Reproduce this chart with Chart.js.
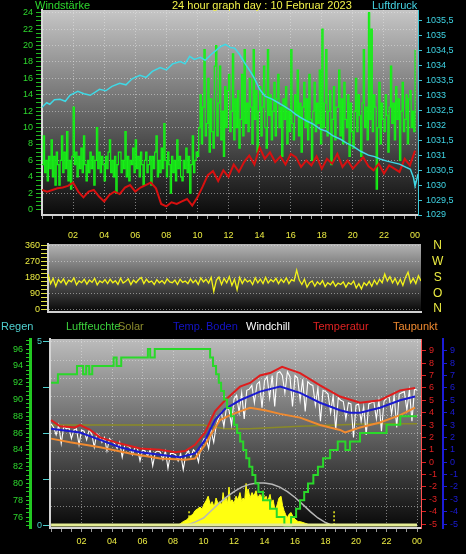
<!DOCTYPE html>
<html lang="de">
<head>
<meta charset="UTF-8">
<title>24 hour graph day : 10 Februar 2023</title>
<script src="https://cdn.jsdelivr.net/npm/chart.js"></script>
<style>
  html, body { margin: 0; padding: 0; background: #000; }
  body { position: relative; width: 466px; height: 554px; overflow: hidden; font-family: "Liberation Sans", Arial, sans-serif; }
  canvas { position: absolute; left: 0; }
  #topChart { top: 0; }
  #dirChart { top: 238px; }
  #bottomChart { top: 330px; }
  .t { position: absolute; font-size: 11px; line-height: 11px; white-space: nowrap; z-index: 2; }
</style>
</head>
<body>
<canvas id="topChart" width="466" height="240"></canvas>
<canvas id="dirChart" width="466" height="80"></canvas>
<canvas id="bottomChart" width="466" height="224"></canvas>

<div class="t" style="left:35px;top:0;color:#2ed82e">Windstärke</div>
<div class="t" style="left:172px;top:0;color:#f2f24a">24 hour graph day : 10 Februar 2023</div>
<div class="t" style="left:372px;top:0;color:#45d4e4">Luftdruck</div>

<div class="t" style="left:1px;top:321px;color:#4fd0d0">Regen</div>
<div class="t" style="left:66px;top:321px;color:#3cd23c">Luftfeuchte</div>
<div class="t" style="left:118px;top:321px;color:#8c8c2c">Solar</div>
<div class="t" style="left:173px;top:321px;color:#1414c8">Temp. Boden</div>
<div class="t" style="left:246px;top:321px;color:#ffffff">Windchill</div>
<div class="t" style="left:313px;top:321px;color:#e02222">Temperatur</div>
<div class="t" style="left:393px;top:321px;color:#f08a30">Taupunkt</div>

<script>
// ---------- data ----------
// wind gusts, every 5 minutes from 00:00 to 24:00
const windGust = [
  5.5, 9.0, 4.5, 6.0, 3.5, 6.5, 5.0, 8.5, 4.0, 6.5, 3.0, 7.0,
  5.5, 3.0, 6.0, 9.0, 4.5, 7.0, 5.0, 9.5, 3.5, 6.0, 2.5, 6.5,
  12.5, 5.5, 7.0, 4.0, 6.5, 5.0, 7.5, 4.5, 9.0, 5.5, 3.5, 6.0,
  4.5, 7.0, 5.0, 6.5, 3.0, 6.0, 10.0, 5.0, 7.0, 4.5, 6.5, 5.5,
  3.5, 6.5, 5.0, 7.0, 8.5, 4.5, 6.0, 4.0, 6.5, 2.0, 5.5, 7.0,
  7.0, 4.5, 6.0, 5.0, 9.5, 4.0, 6.5, 3.5, 6.0, 5.5, 7.5, 4.5,
  8.5, 5.0, 6.5, 4.0, 7.0, 5.5, 3.0, 6.0, 7.0, 4.5, 5.5, 6.5,
  3.0, 6.5, 5.0, 7.0, 9.0, 4.0, 6.0, 4.5, 7.5, 5.0, 10.5, 6.0,
  4.0, 7.0, 5.5, 2.0, 6.5, 4.5, 6.0, 3.5, 8.5, 5.0, 6.5, 4.0,
  3.5, 6.0, 5.0, 7.5, 4.5, 6.5, 2.0, 5.5, 9.0, 4.5, 6.0, 7.0,
  6.5, 10.0, 14.0, 8.0, 12.5, 19.5, 9.0, 10.5, 16.0, 7.0, 13.5, 9.5,
  7.5, 17.5, 20.0, 9.0, 13.0, 17.5, 8.5, 12.0, 6.5, 15.0, 10.0, 14.5,
  16.5, 9.5, 12.0, 19.0, 8.5, 13.5, 10.0, 14.5, 7.5, 11.0, 16.5, 9.0,
  19.5, 10.5, 13.0, 9.5, 16.0, 12.5, 8.0, 19.5, 11.0, 14.5, 7.0, 12.0,
  15.0, 9.0, 12.5, 17.5, 10.0, 7.5, 19.5, 11.5, 14.0, 8.5, 12.0, 15.5,
  9.0, 13.5, 16.5, 10.0, 12.5, 6.5, 13.5, 11.0, 15.0, 8.0, 12.0, 9.5,
  19.5, 10.5, 8.5, 14.0, 11.5, 17.0, 9.0, 13.0, 7.0, 12.5, 15.5, 10.0,
  13.5, 8.5, 16.5, 11.0, 6.0, 12.0, 15.5, 9.5, 13.0, 10.5, 17.0, 8.0,
  22.0, 10.0, 13.0, 19.5, 9.0, 12.0, 14.5, 5.5, 11.0, 15.0, 8.5, 12.5,
  12.5, 17.0, 9.0, 13.5, 8.0, 15.5, 11.0, 10.0, 14.0, 6.5, 13.0, 9.5,
  7.5, 12.0, 16.0, 9.5, 14.0, 11.5, 6.5, 13.0, 19.5, 10.0, 12.5, 8.5,
  24.0, 11.0, 22.0, 9.5, 14.0, 12.5, 2.5, 10.0, 15.5, 8.0, 13.0, 11.0,
  9.5, 14.0, 11.5, 7.0, 12.5, 17.5, 10.5, 13.0, 8.5, 15.0, 11.0, 13.5,
  6.0, 12.0, 15.5, 9.5, 11.0, 14.0, 8.0, 13.5, 14.5, 10.0, 12.0, 9.5,
  19.5
];

// average wind, every 20 minutes
const windAvg = [
  2.4, 2.2, 2.4, 2.6, 2.7, 2.9, 3.3, 2.2, 1.5, 2.2, 2.4, 1.6,
  1.0, 1.8, 2.2, 1.9, 2.7, 3.0, 2.2, 2.7, 3.0, 3.3, 2.6, 0.7,
  0.4, 0.9, 0.7, 1.0, 1.3, 0.5, 1.5, 2.8, 4.2, 4.7, 3.5, 4.8,
  4.0, 5.5, 4.6, 5.8, 6.6, 5.5, 7.6, 6.2, 7.0, 5.8, 6.5, 5.5,
  6.8, 6.4, 5.2, 6.0, 5.4, 6.5, 5.0, 6.2, 5.6, 6.8, 5.2, 6.0,
  5.0, 5.7, 6.4, 5.3, 4.8, 5.6, 4.4, 5.4, 5.0, 4.6, 6.2, 5.4,
  7.2
];

// air pressure (hPa)
const pressHours = [0, 0.3, 0.5, 0.8, 1.16, 1.5, 1.8, 2.3, 2.7, 3.1, 3.4, 3.7, 4.1, 4.5, 5.0, 5.4, 5.8, 6.3,
  6.7, 7.1, 7.6, 8.0, 8.4, 8.9, 9.2, 9.5, 9.8, 10.2, 10.5, 10.9, 11.2, 11.5, 11.8, 12.1, 12.4, 12.7,
  13.1, 13.4, 13.7, 14.0, 14.35, 14.8, 15.2, 15.6, 16.0, 16.3, 16.6, 17.0, 17.4, 17.9, 18.3, 18.7,
  19.2, 19.6, 20.0, 20.5, 21.0, 21.4, 21.75, 22.2, 22.6, 23.0, 23.4, 23.7, 23.9, 24.0, 24.2];
const pressure = [1032.6, 1032.75, 1032.7, 1032.85, 1032.87, 1032.8, 1033.0, 1033.13, 1033.05, 1033.0,
  1033.1, 1033.2, 1033.15, 1033.3, 1033.4, 1033.35, 1033.55, 1033.67, 1033.6, 1033.8, 1033.93, 1033.85,
  1034.05, 1034.13, 1034.05, 1034.3, 1034.2, 1034.27, 1034.17, 1034.37, 1034.5, 1034.63, 1034.7, 1034.6,
  1034.57, 1034.37, 1034.03, 1033.8, 1033.53, 1033.2, 1032.97, 1032.87, 1032.75, 1032.63, 1032.5,
  1032.37, 1032.27, 1032.15, 1032.05, 1031.87, 1031.8, 1031.65, 1031.53, 1031.4, 1031.3, 1031.13,
  1031.0, 1030.95, 1030.87, 1030.8, 1030.75, 1030.7, 1030.6, 1030.53, 1030.25, 1029.97, 1030.37];

// wind direction (degrees), every 10 minutes
const windDir = [
  200, 145, 175, 130, 168, 150,
  172, 140, 165, 155, 178, 138,
  160, 150, 170, 142, 165, 152,
  175, 138, 160, 150, 168, 145,
  170, 150, 162, 140, 176, 148,
  158, 172, 140, 165, 150, 168,
  180, 145, 170, 152, 160, 140,
  168, 150, 162, 145, 172, 155,
  150, 165, 140, 170, 152, 160,
  145, 172, 150, 165, 140, 178,
  155, 170, 148, 180, 100, 165,
  182, 140, 175, 150, 185, 135,
  170, 110, 180, 145, 172, 155,
  165, 140, 178, 150, 170, 145,
  180, 148, 168, 155, 175, 145,
  170, 152, 178, 145, 168, 160,
  222, 165, 140, 170, 125, 150,
  160, 130, 155, 140, 162, 128,
  150, 138, 158, 130, 148, 140,
  155, 125, 150, 140, 160, 120,
  145, 115, 150, 135, 158, 130,
  165, 140, 170, 150, 200, 160,
  185, 150, 175, 140, 170, 135,
  180, 210, 150, 175, 145, 190,
  160
];
const dirLabels = ['N', 'O', 'S', 'W', 'N'];

// humidity (%), value valid from the given hour on
const humHours = [0, 0.45, 1.7, 2.1, 2.3, 2.5, 2.7, 4.1, 4.3, 4.6, 6.35, 6.5, 6.8,
  10.43, 10.62, 10.82, 11.0, 11.15, 11.34, 11.54, 11.8, 12.0, 12.2, 12.4, 12.6, 12.8, 13.0,
  13.2, 13.4, 13.6, 13.9, 14.36, 14.8, 15.3, 15.74, 16.07, 16.33, 16.6, 16.85, 17.2, 17.5,
  17.84, 18.3, 18.8, 19.3, 19.6, 20.26, 22.0, 22.9, 24.0];
const humidity = [92, 93, 94, 93, 94, 93, 94, 95, 94, 95, 96, 95, 96,
  95, 94, 93, 92, 91, 90, 89, 88, 87, 86, 85, 84, 83, 82,
  81, 80, 79, 78, 77, 76, 75, 76, 77, 78, 79, 80, 81, 82,
  83, 84, 85, 84, 85, 86, 87, 88, 88];

// temperatures (°C)
const tempHours = [0, 0.59, 1.57, 1.9, 2.56, 3.21, 4.52, 5.84, 7.15, 8.13, 8.79, 9.44, 10.1,
  10.75, 11.41, 12.39, 13.05, 13.7, 14.36, 15.15, 16.33, 17.64, 18.95, 20.26, 21.57, 22.89, 23.87];
const temperature = [3.4, 2.9, 2.8, 3.0, 2.6, 2.0, 1.5, 1.1, 1.0, 0.8, 0.9, 1.4, 2.4,
  4.1, 5.0, 6.1, 6.4, 7.0, 7.2, 7.7, 7.2, 6.2, 5.3, 4.8, 5.0, 5.8, 6.0];

const bodenHours = [0, 1.9, 3.21, 4.52, 5.84, 7.15, 8.46, 9.44, 10.1, 10.75, 11.41, 12.39,
  13.7, 15.02, 16.33, 17.64, 18.95, 19.6, 20.26, 21.57, 22.89, 23.87];
const bodenTemp = [2.7, 2.4, 1.8, 1.2, 0.8, 0.6, 0.4, 0.7, 1.8, 3.4, 4.3, 5.0,
  5.7, 6.1, 5.6, 4.8, 4.2, 4.0, 4.0, 4.4, 5.0, 5.3];

const dewHours = [0, 1.25, 3.21, 5.18, 7.15, 8.79, 9.44, 10.1, 10.56, 11.08, 11.74, 12.39,
  13.05, 14.03, 15.02, 16.33, 17.64, 18.95, 19.28, 20.26, 21.57, 22.89, 23.87];
const dewPoint = [1.9, 1.6, 1.2, 0.7, 0.3, 0.2, 0.3, 1.4, 2.4, 3.4, 3.8, 4.1,
  4.4, 4.2, 3.9, 3.6, 3.0, 2.6, 2.4, 2.8, 3.2, 3.8, 4.4];

// windchill, every 10 minutes
const windchill = [
  3.1, 2.8, 2.2, 3.0, 1.5, 2.9,
  2.7, 2.8, 1.9, 2.6, 2.7, 1.4,
  2.6, 2.5, 1.8, 2.6, 2.3, 1.2,
  2.3, 2.1, 1.6, 2.0, 0.9, 1.9,
  1.7, 1.5, 1.1, 1.6, 0.4, 1.4,
  1.3, 1.2, 0.6, 1.2, 1.1, 0.1,
  1.0, 0.9, 0.5, 1.0, -0.3, 0.8,
  0.9, 0.8, 0.2, 0.9, -0.5, 0.7,
  0.7, 0.6, 0.1, 0.7, -0.6, 0.6,
  0.9, 0.4, 1.0, 0.8, 0.0, 1.3,
  1.8, 2.0, 1.1, 2.5, 1.6, 3.0,
  3.6, 4.0, 2.9, 4.4, 4.2, 3.0,
  5.1, 5.4, 4.0, 5.6, 3.5, 5.8,
  5.9, 6.2, 4.8, 6.3, 6.5, 4.4,
  6.6, 6.9, 5.2, 7.0, 4.5, 7.2,
  7.3, 7.0, 5.6, 7.3, 6.9, 4.5,
  7.0, 6.8, 5.0, 6.7, 4.1, 6.5,
  6.3, 6.2, 4.6, 6.0, 3.3, 5.8,
  5.7, 5.5, 4.0, 5.4, 2.6, 5.2,
  5.0, 4.9, 3.5, 4.8, 4.7, 2.0,
  4.6, 4.7, 3.3, 4.5, 2.2, 4.7,
  4.8, 4.9, 3.5, 5.0, 2.5, 4.9,
  5.2, 5.3, 3.9, 5.4, 2.8, 5.5,
  5.6, 5.7, 4.2, 5.8, 3.3, 5.9,
  5.8
];

// olive reference line (°C)
const oliveHours = [0, 5, 10, 11.4, 13, 16.3, 21, 24];
const oliveTemp = [3.0, 3.0, 3.0, 2.7, 2.7, 2.9, 3.1, 3.1];

// solar radiation (relative units)
const solarHours = [8.33, 8.5, 8.66, 8.9, 9.11, 9.3, 9.44, 9.6, 9.77, 9.9, 10.0, 10.2, 10.3, 10.45,
  10.56, 10.7, 10.82, 10.95, 11.08, 11.2, 11.28, 11.38, 11.48, 11.58, 11.67, 11.75, 11.87, 12.0,
  12.13, 12.25, 12.39, 12.5, 12.59, 12.7, 12.79, 12.85, 12.92, 13.05, 13.18, 13.3, 13.44, 13.55,
  13.7, 13.8, 13.9, 14.0, 14.1, 14.2, 14.36, 14.46, 14.56, 14.65, 14.75, 14.85, 14.95, 15.08,
  15.18, 15.28, 15.38, 15.48, 15.6, 15.74, 15.85, 15.93, 16.05, 16.2, 16.35, 16.52, 16.7, 16.85, 17.11];
const solar = [0, 1, 2, 3, 5, 6, 8, 9, 10, 9, 11, 14, 16, 11,
  13, 10, 15, 12, 13, 11, 18, 13, 15, 12, 21, 13, 14, 12,
  16, 14, 18, 13, 15, 14, 23, 17, 20, 15, 18, 16, 19, 15,
  17, 15, 19, 14, 16, 13, 17, 12, 14, 10, 9, 12, 15, 16,
  11, 8, 6, 4, 6, 7, 5, 4, 3, 2, 2, 1.5, 1, 0.5, 0];
const clearHours = [8.9, 9.5, 10, 10.5, 11, 11.5, 12, 12.5, 13, 13.5, 14, 14.5, 15, 15.5, 16, 16.5, 17, 17.5, 18, 18.4];
const clearSky = [0, 2, 4, 8, 12, 15.5, 18.5, 21, 22.5, 23.2, 23.3, 22.6, 21, 18.5, 15.3, 11.5, 7.5, 4, 1.5, 0];
const sunMarks = [9.05, 18.56];
const sunMarkHeight = 8;

// rain (mm)
const rainHours = [0, 24];
const rain = [0, 0];

// ---------- helpers ----------
const xy = (xs, ys) => ys.map((v, i) => ({ x: xs[i], y: v }));
const series = (step, ys) => ys.map((v, i) => ({ x: i * step, y: v }));
const near = (v, step) => Math.abs(v / step - Math.round(v / step)) < 1e-6;
const deComma = v => String(v).replace('.', ',');
const GRID = 'rgba(232,232,232,0.5)';

function stepTicks(from, to, step) {
  const out = [];
  const n = Math.round((to - from) / step);
  for (let i = 0; i <= n; i++) out.push({ value: +(from + i * step).toFixed(4) });
  return out;
}

Chart.defaults.font.family = '"Liberation Sans", Arial, Helvetica, sans-serif';
Chart.defaults.font.size = 9;

Chart.register({
  id: 'plotBackground',
  beforeDraw(chart, args, opts) {
    const { ctx, chartArea: a } = chart;
    const g = ctx.createLinearGradient(0, a.top, 0, a.bottom);
    g.addColorStop(0, opts.top || '#c0c0c0');
    g.addColorStop(1, opts.bottom || '#000');
    ctx.save();
    ctx.fillStyle = g;
    ctx.fillRect(a.left, a.top, a.width, a.height);
    ctx.restore();
  }
});

function hourAxis(min, max, height, labelPad) {
  return {
    type: 'linear', min, max,
    afterBuildTicks: s => { s.ticks = stepTicks(0, 24, 2 / 3); },
    afterFit: s => { s.height = height; },
    ticks: {
      color: '#ecec42', autoSkip: false, maxRotation: 0, padding: labelPad,
      callback: v => (near(v, 2) && v > 0) ? (v === 24 ? '00' : String(v).padStart(2, '0')) : ''
    },
    grid: {
      color: c => (c.tick && near(c.tick.value, 2) && c.tick.value > 0) ? GRID : 'transparent',
      tickColor: '#9a9a9a', tickLength: 4, tickBorderDash: []
    },
    border: { color: '#d4d4d4', width: 2, dash: [1, 2] }
  };
}

const baseOptions = (padTop, padRight, bg) => ({
  responsive: false,
  animation: false,
  elements: { point: { radius: 0 }, line: { tension: 0 } },
  layout: { padding: { top: padTop, left: 0, right: padRight, bottom: 0 } },
  plugins: { legend: { display: false }, tooltip: { enabled: false }, plotBackground: bg }
});

// ---------- top: wind and pressure ----------
new Chart(document.getElementById('topChart'), {
  type: 'line',
  data: {
    datasets: [
      { data: xy(pressHours, pressure), yAxisID: 'yPress', borderColor: '#3fd9e6', borderWidth: 1.5 },
      { data: series(1 / 3, windAvg), yAxisID: 'yWind', borderColor: '#d81010', borderWidth: 2 },
      { data: series(1 / 12, windGust), yAxisID: 'yWind', borderColor: '#16f016', borderWidth: 1.2, stepped: true }
    ]
  },
  options: Object.assign(baseOptions(10, 0, { top: '#c6c6c6', bottom: '#0a0a0a' }), {
    scales: {
      x: hourAxis(0, 24.19, 25, 11),
      yWind: {
        position: 'left', min: -0.65, max: 24.33,
        afterBuildTicks: s => { s.ticks = stepTicks(0, 24, 0.5); },
        afterFit: s => { s.width = 42; },
        ticks: { color: '#2ed82e', autoSkip: false, padding: 3, callback: v => near(v, 2) ? String(v) : '' },
        grid: {
          color: c => (c.tick && near(c.tick.value, 2) && c.tick.value > 0) ? GRID : 'transparent',
          tickColor: '#1fb81f', tickLength: 6, tickBorderDash: []
        },
        border: { color: '#d8d8d8', width: 2, dash: [1, 2] }
      },
      yPress: {
        position: 'right', min: 1029, max: 1035.85,
        afterBuildTicks: s => { s.ticks = stepTicks(1029, 1035.5, 0.5); },
        afterFit: s => { s.width = 48; },
        ticks: { color: '#3fd4e4', autoSkip: false, padding: 4, callback: v => deComma(v) },
        grid: { drawOnChartArea: false, color: '#3fc8d8', tickLength: 4, tickBorderDash: [] },
        border: { color: '#3fc8d8', width: 1 }
      }
    }
  })
});

// ---------- middle: wind direction ----------
new Chart(document.getElementById('dirChart'), {
  type: 'line',
  data: {
    datasets: [
      { data: series(1 / 6, windDir), yAxisID: 'y', borderColor: '#f4f418', borderWidth: 1.3 }
    ]
  },
  options: Object.assign(baseOptions(6, 0, { top: '#b4b4b4', bottom: '#060606' }), {
    scales: {
      x: {
        type: 'linear', min: 0, max: 24,
        afterFit: s => { s.height = 5; },
        ticks: { display: false },
        grid: { display: false },
        border: { color: '#d0d0d0', width: 2 }
      },
      y: {
        position: 'left', min: -17, max: 371,
        afterBuildTicks: s => { s.ticks = stepTicks(0, 360, 22.5); },
        afterFit: s => { s.width = 48; },
        ticks: { color: '#ecec42', autoSkip: false, padding: 1, font: { size: 9, lineHeight: 1 },
                 callback: v => near(v, 90) ? String(v) : '' },
        grid: {
          color: c => (c.tick && near(c.tick.value, 90)) ? GRID : 'transparent',
          tickColor: '#e0e040', tickLength: 7, tickBorderDash: []
        },
        border: { color: '#d0d0d0', width: 2, dash: [1, 2] }
      },
      yDir: {
        position: 'right', min: -17, max: 371,
        afterBuildTicks: s => { s.ticks = dirLabels.map((t, i) => ({ value: i * 90 })); },
        afterFit: s => { s.width = 45; },
        ticks: { color: '#ecec42', autoSkip: false, padding: 0, crossAlign: 'center',
                 font: { size: 12, lineHeight: 1 }, callback: v => dirLabels[Math.round(v / 90)] },
        grid: { display: true, drawOnChartArea: false, color: 'transparent', tickLength: 11 },
        border: { display: false }
      }
    }
  })
});

// ---------- bottom: humidity, temperatures, solar ----------
const sunMarkSets = sunMarks.map(h => ({
  data: [{ x: h, y: 0 }, { x: h, y: sunMarkHeight }], yAxisID: 'ySolar',
  borderColor: '#f0f020', borderWidth: 1.5, borderDash: [2, 2]
}));

new Chart(document.getElementById('bottomChart'), {
  type: 'line',
  data: {
    datasets: [
      { data: xy(rainHours, rain), yAxisID: 'yRain', borderColor: '#e4ec94', borderWidth: 3 },
      { data: xy(humHours, humidity), yAxisID: 'yHum', borderColor: '#2ad82a', borderWidth: 2, stepped: true },
      { data: xy(tempHours, temperature), yAxisID: 'yTemp', borderColor: '#e01c1c', borderWidth: 2 },
      { data: xy(bodenHours, bodenTemp), yAxisID: 'yTemp', borderColor: '#1a1ad0', borderWidth: 2 },
      { data: xy(dewHours, dewPoint), yAxisID: 'yTemp', borderColor: '#f08a30', borderWidth: 2 },
      { data: series(1 / 6, windchill), yAxisID: 'yTemp', borderColor: '#ffffff', borderWidth: 1.1 },
      { data: xy(oliveHours, oliveTemp), yAxisID: 'yTemp', borderColor: '#8a8a26', borderWidth: 1.5 },
      { data: xy(clearHours, clearSky), yAxisID: 'ySolar', borderColor: '#b8b8b8', borderWidth: 1.5 },
      ...sunMarkSets,
      { data: xy(solarHours, solar), yAxisID: 'ySolar', borderColor: '#ffff10', borderWidth: 1, backgroundColor: '#ffff10', fill: 'origin' }
    ]
  },
  options: Object.assign(baseOptions(9, 0, { top: '#bcbcbc', bottom: '#080808' }), {
    scales: {
      x: hourAxis(-0.07, 24.26, 26, 4),
      yHum: {
        position: 'left', weight: 1, min: 74.7, max: 97.2,
        afterBuildTicks: s => { s.ticks = stepTicks(75, 97, 0.5); },
        afterFit: s => { s.width = 30; },
        ticks: { color: '#2ed82e', autoSkip: false, padding: 3, callback: v => (near(v, 2) && v >= 76 && v <= 96) ? String(v) : '' },
        grid: { drawOnChartArea: false, color: '#22c822', tickLength: 4, tickBorderDash: [] },
        border: { color: '#22c822', width: 3 }
      },
      yRain: {
        position: 'left', weight: 0, min: -0.08, max: 5.08,
        afterBuildTicks: s => {
          const t = stepTicks(0, 5, 0.5).concat([{ value: 1.25 }, { value: 3.75 }]);
          t.sort((a, b) => a.value - b.value);
          s.ticks = t;
        },
        afterFit: s => { s.width = 20; },
        ticks: { color: '#4fd0d0', autoSkip: false, padding: 1, callback: v => (v === 0 || v === 5) ? String(v) : '' },
        grid: {
          color: c => (c.tick && near(c.tick.value, 0.5) && c.tick.value > 0) ? GRID : 'transparent',
          tickColor: c => (c.tick && near(c.tick.value, 1.25)) ? '#4fd0d0' : 'transparent',
          tickLength: 7, tickBorderDash: []
        },
        border: { color: '#d4d4d4', width: 2, dash: [1, 2] }
      },
      yTemp: {
        position: 'right', weight: 0, min: -5.32, max: 9.95,
        afterBuildTicks: s => { s.ticks = stepTicks(-5, 9, 1); },
        afterFit: s => { s.width = 22; },
        ticks: { color: '#e02222', autoSkip: false, padding: 3 },
        grid: { drawOnChartArea: false, color: '#e02222', tickLength: 5, tickBorderDash: [] },
        border: { color: '#ff5050', width: 1 }
      },
      yBoden: {
        position: 'right', weight: 1, min: -5.32, max: 9.95,
        afterBuildTicks: s => { s.ticks = stepTicks(-5, 9, 1); },
        afterFit: s => { s.width = 23; },
        ticks: { color: '#1c1cd8', autoSkip: false, padding: 3 },
        grid: { drawOnChartArea: false, color: '#1c1cd8', tickLength: 4, tickBorderDash: [] },
        border: { color: '#1c1cd8', width: 2 }
      },
      ySolar: { display: false, min: -1.5, max: 102.5 }
    }
  })
});
</script>
</body>
</html>
